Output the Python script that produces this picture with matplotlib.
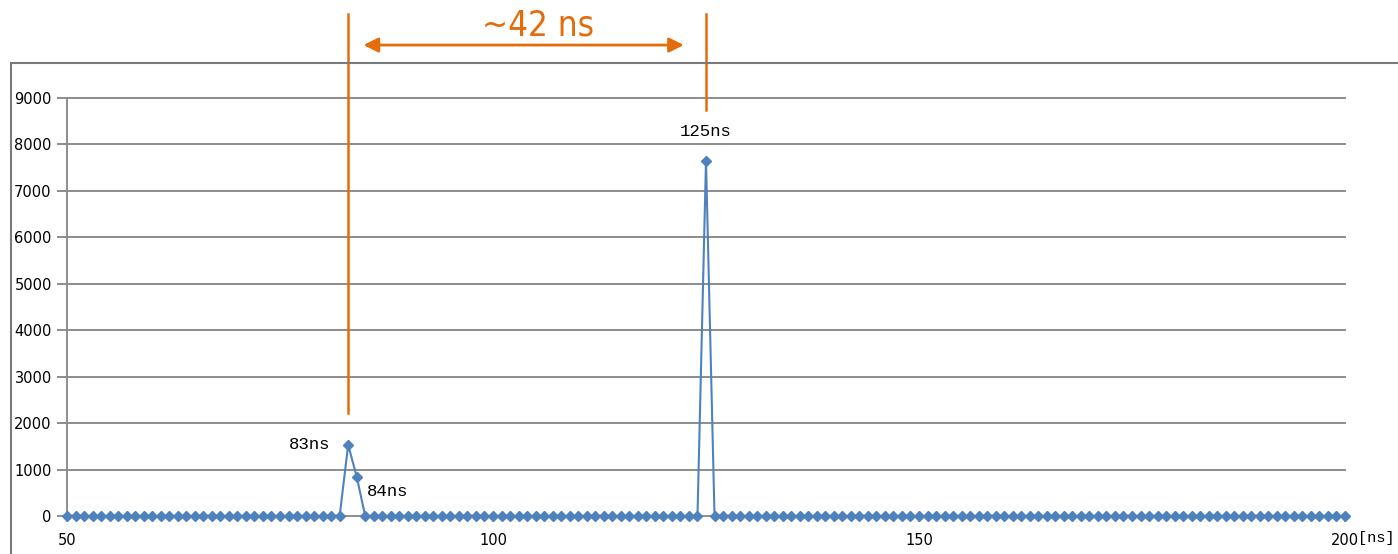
import numpy as np
import matplotlib
matplotlib.use("Agg")
import matplotlib.pyplot as plt
from matplotlib.patches import Rectangle

# histogram of arrival times, 1 ns bins
t_ns = np.arange(50, 201)
counts = np.zeros_like(t_ns)
peaks = {83: 1530, 84: 850, 125: 7650}
for t, c in peaks.items():
    counts[t_ns == t] = c

peak_labels = [(83, "83ns"), (84, "84ns"), (125, "125ns")]
xticks = [50, 100, 150, 200]
yticks = list(range(0, 9001, 1000))

BLUE = "#4F81BD"; ORANGE = "#E46C0A"; GRID = "#8C8C8C"
MONO = ["Liberation Mono", "DejaVu Sans Mono"]
NARROW = ["Liberation Sans Narrow", "DejaVu Sans"]

fig = plt.figure(figsize=(13.98, 5.54), dpi=100)
ax = fig.add_axes([67 / 1398, 1 - 516 / 554, (1345 - 67) / 1398, (516 - 98) / 554])

# outer frame (runs off right/bottom edge)
fig.patches.append(Rectangle((11 / 1398, -0.2), 1.2, 1 - 63 / 554 + 0.2,
                             transform=fig.transFigure, fill=False,
                             edgecolor="#7a7a7a", lw=1.5))

ax.plot(t_ns, counts, color=BLUE, lw=1.5, marker="D", ms=5,
        clip_on=False, zorder=3)

ax.set_xlim(50, 200)
ax.set_ylim(0, 9000)
ax.set_xticks(xticks)
ax.set_yticks(yticks)
ax.grid(axis="y", color=GRID, lw=1.4)
for gl in ax.get_ygridlines():
    gl.set_clip_on(False)
ax.set_axisbelow(True)
for s in ["top", "right", "bottom"]:
    ax.spines[s].set_visible(False)
ax.spines["left"].set_color(GRID)
ax.spines["left"].set_linewidth(1.4)
ax.tick_params(axis="y", length=7, width=1.4, color=GRID, pad=4, labelsize=10.5)
ax.tick_params(axis="x", length=4, width=1.2, color=GRID, pad=8, labelsize=10.5)
for lab in ax.get_yticklabels():
    lab.set_horizontalalignment("right")
ax.text(1.0105, -0.052, "[ns]", transform=ax.transAxes, family=MONO,
        fontsize=11, ha="left", va="center")

# point labels
offs = {83: (-13, 0, "right"), 84: (7, -11, "left"), 125: (0, 21, "center")}
for t, txt in peak_labels:
    dx, dy, ha = offs[t]
    ax.annotate(txt, (t, peaks[t]), xytext=(dx, dy),
                textcoords="offset points", family=MONO, fontsize=12.5,
                ha=ha, va="center")

# orange markers: the two arrival times and the gap between them
ax.plot([83, 83], [2220, 10810], color=ORANGE, lw=1.8, clip_on=False)
ax.plot([125, 125], [8740, 10810], color=ORANGE, lw=1.8, clip_on=False)
ax.annotate("", xy=(84.8, 10140), xytext=(122.4, 10140),
            arrowprops=dict(arrowstyle="<|-|>", color=ORANGE, lw=2,
                            mutation_scale=22, shrinkA=0, shrinkB=0),
            annotation_clip=False)
ax.text(105.3, 10560, "~%d ns" % (125 - 83), color=ORANGE, family=NARROW,
        fontstretch="condensed", fontsize=25, ha="center", va="center")

fig.savefig("out.png", dpi=100)
